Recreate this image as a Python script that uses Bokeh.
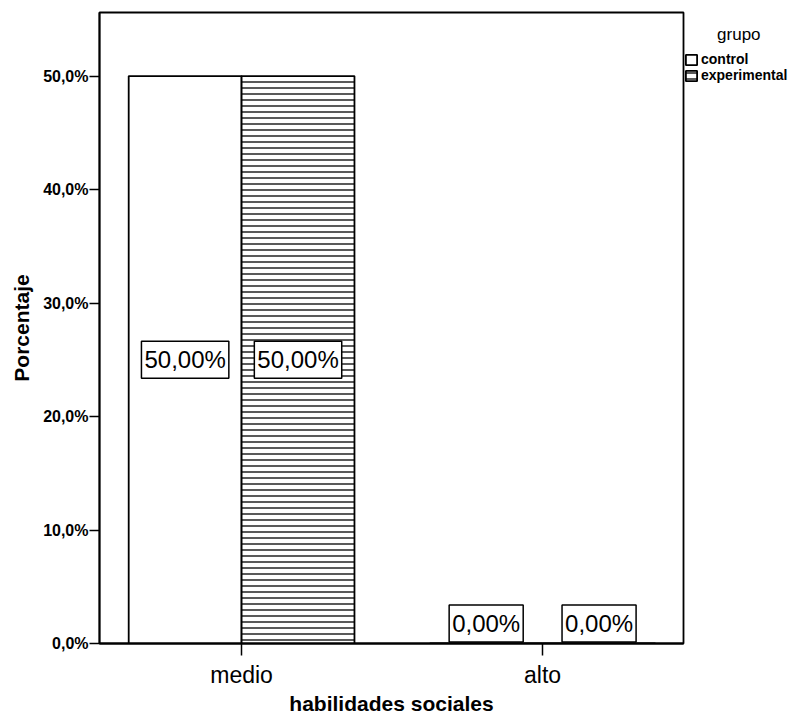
from bokeh.plotting import figure
from bokeh.models import ColumnDataSource, Range1d, FixedTicker, Legend, LegendItem
from bokeh.transform import dodge
from bokeh.core.properties import value
from bokeh.embed import file_html
from bokeh.resources import INLINE

categories = ["medio", "alto"]
groups = ["control", "experimental"]
legend_title = "grupo"
control = [50.0, 0.0]
experimental = [50.0, 0.0]
y_ticks = [0, 10, 20, 30, 40, 50]
y_tick_labels = ["0,0%", "10,0%", "20,0%", "30,0%", "40,0%", "50,0%"]

FONT = "Liberation Sans"
BAR_W = 0.375


def make_source(vals):
    return ColumnDataSource(dict(
        x=list(range(len(categories))),
        top=vals,
        label=[("%.2f" % v).replace(".", ",") + "%" for v in vals],
        label_y=[v / 2.0 for v in vals],
        y_off=[0 if v > 0 else -20 for v in vals],
    ))


src_c = make_source(control)
src_e = make_source(experimental)

p = figure(
    output_backend="svg", toolbar_location=None,
    frame_width=584, frame_height=631,
    min_border_left=99, min_border_top=12, min_border_bottom=64, min_border_right=5,
    x_range=Range1d(-0.472, 1.468), y_range=Range1d(0, 55.6),
    background_fill_color="white", border_fill_color="white",
)
p.outline_line_color = "black"
p.outline_line_width = 1.8
p.xgrid.visible = False
p.ygrid.visible = False

r_c = p.vbar(x=dodge("x", -BAR_W / 2), top="top", width=BAR_W, bottom=0, source=src_c,
             fill_color="white", line_color="black", line_width=1.8)
r_e = p.vbar(x=dodge("x", BAR_W / 2), top="top", width=BAR_W, bottom=0, source=src_e,
             fill_color="white", line_color="black", line_width=1.8,
             hatch_pattern="-", hatch_color="black", hatch_scale=6, hatch_weight=1.3)

for src, off in ((src_c, -BAR_W / 2), (src_e, BAR_W / 2)):
    p.text(x=dodge("x", off), y="label_y", text="label", source=src,
           y_offset="y_off",
           text_align="center", text_baseline="middle",
           text_font=value(FONT), text_font_size="24px", text_color="black",
           background_fill_color="white", border_line_color="black",
           border_line_width=1.5, padding=dict(left=3, right=3, top=5, bottom=5))

# axes
p.yaxis.ticker = FixedTicker(ticks=y_ticks)
p.yaxis.major_label_overrides = {t: l for t, l in zip(y_ticks, y_tick_labels)}
p.yaxis.minor_tick_line_color = None
p.yaxis.major_tick_in = 0
p.yaxis.major_tick_out = 10
p.yaxis.major_label_standoff = 1
p.yaxis.major_label_text_font = FONT
p.yaxis.major_label_text_font_style = "bold"
p.yaxis.major_label_text_font_size = "16px"
p.yaxis.major_label_text_color = "black"
p.yaxis.axis_line_color = "black"
p.yaxis.axis_line_width = 1.8
p.yaxis.major_tick_line_color = "black"
p.yaxis.major_tick_line_width = 1.5
p.yaxis.axis_label = "Porcentaje"
p.yaxis.axis_label_text_font = FONT
p.yaxis.axis_label_text_font_style = "bold"
p.yaxis.axis_label_text_font_size = "21px"
p.yaxis.axis_label_text_color = "black"
p.yaxis.axis_label_standoff = 7

p.xaxis.ticker = FixedTicker(ticks=list(range(len(categories))))
p.xaxis.major_label_overrides = {i: c for i, c in enumerate(categories)}
p.xaxis.minor_tick_line_color = None
p.xaxis.major_tick_in = 0
p.xaxis.major_tick_out = 12
p.xaxis.major_label_standoff = 6
p.xaxis.major_label_text_font = FONT
p.xaxis.major_label_text_font_size = "23px"
p.xaxis.major_label_text_color = "black"
p.xaxis.axis_line_color = "black"
p.xaxis.axis_line_width = 1.8
p.xaxis.major_tick_line_color = "black"
p.xaxis.major_tick_line_width = 1.5
p.xaxis.axis_label = "habilidades sociales"
p.xaxis.axis_label_text_font = FONT
p.xaxis.axis_label_text_font_style = "bold"
p.xaxis.axis_label_text_font_size = "21px"
p.xaxis.axis_label_text_color = "black"
p.xaxis.axis_label_standoff = 1

legend = Legend(
    items=[LegendItem(label=groups[0], renderers=[r_c]),
           LegendItem(label=groups[1], renderers=[r_e])],
    title="\u00a0" * 7 + legend_title,
    title_text_font=FONT, title_text_font_size="17px", title_text_font_style="normal",
    title_text_color="black", title_standoff=6,
    location=(1, 560), orientation="vertical",
    padding=0, margin=0, spacing=0,
    glyph_width=14, glyph_height=13, label_height=11,
    label_standoff=3,
    label_text_font=FONT, label_text_font_style="bold", label_text_font_size="14px",
    label_text_color="black",
    border_line_color=None, background_fill_alpha=0,
)
p.add_layout(legend, "right")

open("out.html", "w").write(file_html(p, INLINE))
